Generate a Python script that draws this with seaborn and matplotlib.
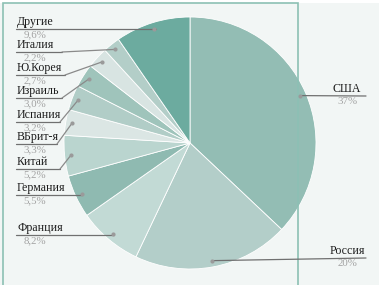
import numpy as np
import matplotlib
matplotlib.use("Agg")
import matplotlib.pyplot as plt
from matplotlib.patches import Rectangle
import seaborn as sns

# data, clockwise from 12 o'clock
countries = ["США", "Россия", "Франция", "Германия", "Китай", "ВБрит-я",
             "Испания", "Израиль", "Ю.Корея", "Италия", "Другие"]
shares = [37, 20, 8.2, 5.5, 5.2, 3.3, 3.2, 3.0, 2.7, 2.2, 9.6]
share_labels = ["37%", "20%", "8,2%", "5,5%", "5,2%", "3,3%",
                "3,2%", "3,0%", "2,7%", "2,2%", "9,6%"]
colors = ["#93bdb4", "#b3cec9", "#c2dad5", "#8fbab1", "#bad5cf", "#dbe6e4",
          "#b1cdc7", "#9fc4bb", "#d8e4e2", "#b3cec8", "#6cab9f"]

sns.set_style("white")
plt.rcParams["font.family"] = ["Liberation Serif", "DejaVu Serif"]

W, H = 383, 285
fig = plt.figure(figsize=(W / 100, H / 100), dpi=100)
fig.patch.set_facecolor("white")
ax = fig.add_axes([0, 0, 1, 1])

def py(y):
    # pixel row -> data y
    return H - y

ax.add_patch(Rectangle((0, 0), 379, py(3), facecolor="#f2f6f5", edgecolor="none", zorder=0))
ax.add_patch(Rectangle((2.5, -5), 295.5, py(3) + 5, facecolor="none",
                       edgecolor="#8cc0b4", linewidth=1.2, zorder=5))

cx, cy, r = 190, py(143), 126
ax.pie(shares, colors=sns.color_palette(colors), startangle=90, counterclock=False,
       center=(cx, cy), radius=r, frame=True,
       wedgeprops=dict(edgecolor="white", linewidth=0.6))
ax.set_xlim(0, W)
ax.set_ylim(0, H)
ax.set_aspect("equal")
ax.axis("off")

# dots at mid-angle of each wedge
tot = sum(shares)
cum = np.cumsum([0] + shares[:-1])
mid = (cum + np.array(shares) / 2) / tot * 2 * np.pi
dots = [(cx + 0.95 * r * np.sin(a), cy + 0.95 * r * np.cos(a)) for a in mid]

txt = dict(fontsize=8.6, color="#1c1c1c")
pct = dict(fontsize=7.8, color="#a3a3a3")

# left-hand labels: underline row (px) and underline end (px)
left = {"Другие": (29, 156), "Италия": (52, 62), "Ю.Корея": (75, 65),
        "Израиль": (98, 62), "Испания": (122, 60), "ВБрит-я": (144, 57),
        "Китай": (169, 60), "Германия": (195, 82), "Франция": (235, 114)}
for i, name in enumerate(countries):
    dx, dy = dots[i]
    if name in left:
        uy, ux = left[name]
        ax.plot([16, ux], [py(uy), py(uy)], color="#707070", lw=0.9, zorder=6)
        ax.plot([ux, dx], [py(uy), dy], color="#8a8a8a", lw=0.9, zorder=6)
        ax.text(17, py(uy) + 1, name, ha="left", va="bottom", zorder=7, **txt)
        ax.text(35, py(uy) - 1.5, share_labels[i], ha="center", va="top", zorder=7, **pct)
    else:
        uy = 96 if name == "США" else 258
        ax.plot([dx, 366], [dy, py(uy)], color="#707070", lw=0.9, zorder=6)
        ax.text(347, py(uy) + 1, name, ha="center", va="bottom", zorder=7, **txt)
        ax.text(347, py(uy) - 1.5, share_labels[i], ha="center", va="top", zorder=7, **pct)
    ax.plot(dx, dy, "o", ms=3, color="#9a9a9a", mec="none", zorder=7)

fig.savefig("out.png", dpi=100)
